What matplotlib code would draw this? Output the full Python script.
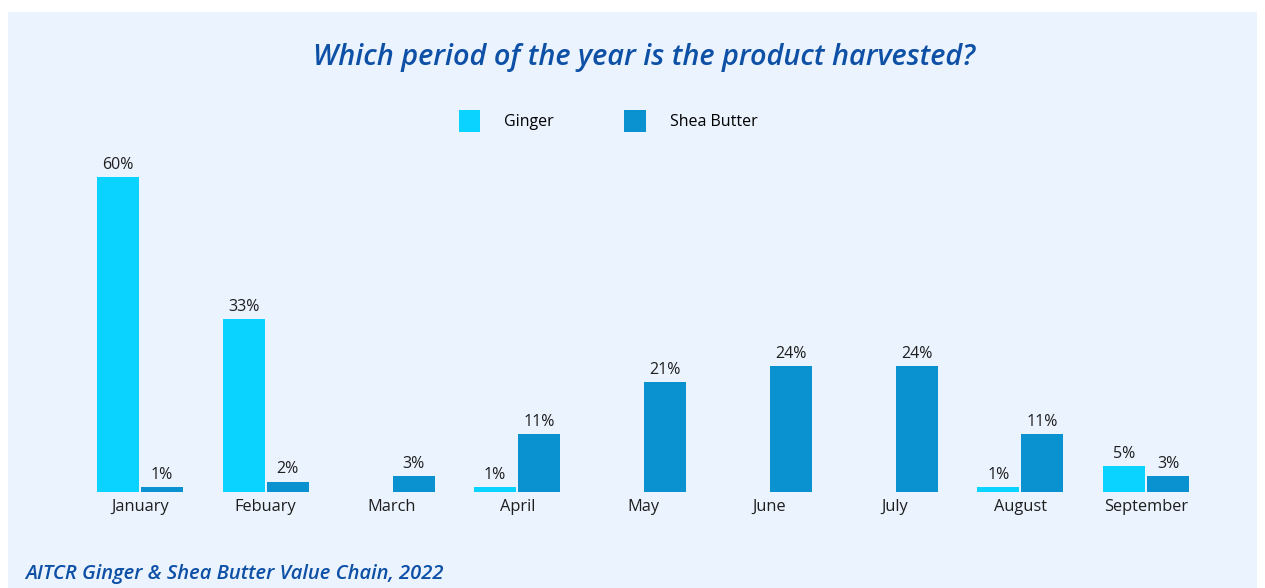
import numpy as np
import matplotlib
matplotlib.use("Agg")
import matplotlib.pyplot as plt
from matplotlib.patches import Rectangle, Patch

plt.rcParams['font.family'] = ['Open Sans', 'DejaVu Sans']

months = ["January", "Febuary", "March", "April", "May", "June",
          "July", "August", "September"]
ginger = [60, 33, 0, 1, 0, 0, 0, 1, 5]
shea_butter = [1, 2, 3, 11, 21, 24, 24, 11, 3]

ginger_color = "#0AD3FF"
shea_color = "#0A91CF"
title_color = "#0D50A6"
panel_color = "#EBF3FE"
text_color = "#1E1E1E"

fig = plt.figure(figsize=(12.65, 5.88), dpi=100)
fig.patch.set_facecolor("white")
# light blue panel behind everything
fig.patches.append(Rectangle((8 / 1265, 0), 1249 / 1265, 576 / 588,
                             transform=fig.transFigure, facecolor=panel_color,
                             edgecolor="none", zorder=-10))

ax = fig.add_axes([77 / 1265, 96 / 588, 1132 / 1265, 341.25 / 588])
ax.set_facecolor("none")

x = np.arange(len(months))
w = 0.334
off = 0.176
b1 = ax.bar(x - off, ginger, w, color=ginger_color, label="Ginger")
b2 = ax.bar(x + off, shea_butter, w, color=shea_color, label="Shea Butter")

for bars, vals in ((b1, ginger), (b2, shea_butter)):
    for bar, v in zip(bars, vals):
        if v == 0:
            continue
        ax.text(bar.get_x() + bar.get_width() / 2, v + 0.8, f"{v}%",
                ha="center", va="bottom", fontsize=11.5, color=text_color)

ax.set_xlim(-0.5, len(months) - 0.5)
ax.set_ylim(0, 65)
ax.set_xticks(x)
ax.set_xticklabels(months, fontsize=11.8, color=text_color)
ax.tick_params(axis="x", length=0, pad=5)
ax.set_yticks([])
for s in ax.spines.values():
    s.set_visible(False)

fig.text(644 / 1265, 1 - 57 / 588, "Which period of the year is the product harvested?",
         ha="center", va="center", fontsize=20.8, fontweight="semibold",
         fontstyle="italic", color=title_color)

handles = [Patch(facecolor=ginger_color, label="Ginger"),
           Patch(facecolor=shea_color, label="Shea Butter")]
fig.legend(handles=handles, loc="center", bbox_to_anchor=(608 / 1265, 1 - 121 / 588),
           ncol=2, frameon=False, fontsize=11.5, handlelength=1.35, handleheight=1.8,
           handletextpad=1.5, columnspacing=4.4)

fig.text(25 / 1265, 1 - 574 / 588, "AITCR Ginger & Shea Butter Value Chain, 2022",
         ha="left", va="center", fontsize=14.5, fontweight="semibold",
         fontstyle="italic", color=title_color)

fig.savefig("out.png", dpi=100, facecolor=fig.get_facecolor())
